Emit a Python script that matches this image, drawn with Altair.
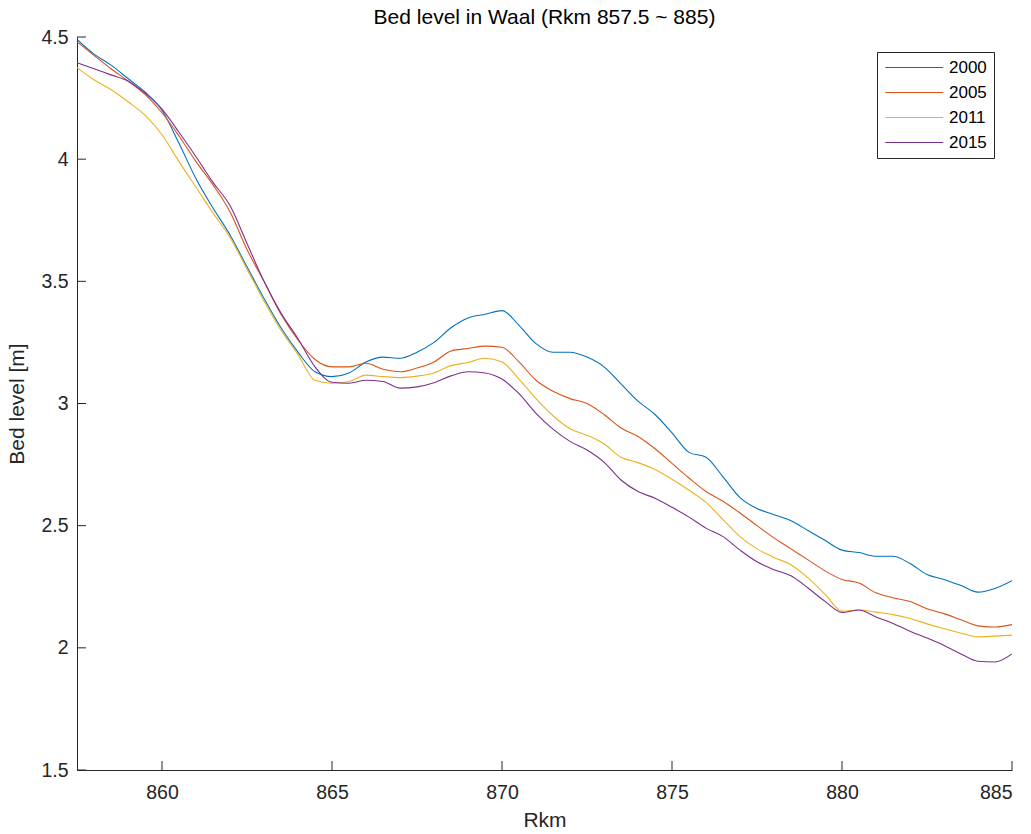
import altair as alt
import pandas as pd

# River kilometre stations (Rkm) along the Waal
rkm = [857.5, 858.0, 858.5, 859.0, 859.5, 860.0, 860.5, 861.0, 861.5, 862.0,
       862.5, 863.0, 863.5, 864.0, 864.5, 865.0, 865.5, 866.0, 866.5, 867.0,
       867.5, 868.0, 868.5, 869.0, 869.5, 870.0, 870.5, 871.0, 871.5, 872.0,
       872.5, 873.0, 873.5, 874.0, 874.5, 875.0, 875.5, 876.0, 876.5, 877.0,
       877.5, 878.0, 878.5, 879.0, 879.5, 880.0, 880.5, 881.0, 881.5, 882.0,
       882.5, 883.0, 883.5, 884.0, 884.5, 885.0]

# Bed level [m] per survey year
bed_2000 = [4.49, 4.43, 4.385, 4.33, 4.275, 4.20, 4.065, 3.92, 3.80, 3.69,
            3.56, 3.43, 3.31, 3.21, 3.13, 3.11, 3.125, 3.17, 3.19, 3.185,
            3.21, 3.25, 3.31, 3.35, 3.365, 3.38, 3.32, 3.245, 3.21, 3.21,
            3.19, 3.15, 3.08, 3.01, 2.955, 2.88, 2.80, 2.78, 2.70, 2.615,
            2.57, 2.545, 2.52, 2.48, 2.44, 2.40, 2.39, 2.375, 2.375, 2.345,
            2.30, 2.28, 2.255, 2.228, 2.243, 2.275]
bed_2005 = [4.48, 4.425, 4.37, 4.32, 4.265, 4.19, 4.095, 3.99, 3.895, 3.785,
            3.63, 3.50, 3.365, 3.26, 3.18, 3.15, 3.15, 3.165, 3.14, 3.13,
            3.145, 3.17, 3.215, 3.225, 3.235, 3.23, 3.17, 3.095, 3.05, 3.02,
            3.00, 2.955, 2.90, 2.865, 2.815, 2.755, 2.695, 2.64, 2.60, 2.552,
            2.50, 2.45, 2.405, 2.36, 2.315, 2.28, 2.265, 2.225, 2.205, 2.19,
            2.16, 2.14, 2.115, 2.09, 2.085, 2.095]
bed_2011 = [4.375, 4.325, 4.285, 4.235, 4.18, 4.10, 3.99, 3.885, 3.78, 3.68,
            3.55, 3.42, 3.30, 3.20, 3.095, 3.083, 3.09, 3.116, 3.11, 3.106,
            3.112, 3.125, 3.155, 3.168, 3.185, 3.17, 3.10, 3.02, 2.95, 2.897,
            2.87, 2.835, 2.78, 2.758, 2.73, 2.69, 2.645, 2.595, 2.525, 2.455,
            2.405, 2.37, 2.34, 2.286, 2.22, 2.15, 2.155, 2.146, 2.136, 2.12,
            2.098, 2.078, 2.06, 2.045, 2.048, 2.052]
bed_2015 = [4.395, 4.37, 4.345, 4.32, 4.27, 4.205, 4.11, 4.01, 3.905, 3.81,
            3.655, 3.50, 3.37, 3.265, 3.15, 3.087, 3.083, 3.095, 3.09, 3.063,
            3.068, 3.085, 3.113, 3.13, 3.125, 3.10, 3.04, 2.96, 2.895, 2.845,
            2.81, 2.76, 2.687, 2.64, 2.612, 2.575, 2.535, 2.49, 2.455, 2.40,
            2.352, 2.32, 2.295, 2.245, 2.19, 2.145, 2.155, 2.126, 2.10, 2.068,
            2.04, 2.01, 1.975, 1.945, 1.942, 1.975]

years = ["2000", "2005", "2011", "2015"]
colors = ["#0072BD", "#D95319", "#EDB120", "#7E2F8E"]

x_ticks = [860, 865, 870, 875, 880, 885]
y_ticks = [1.5, 2.0, 2.5, 3.0, 3.5, 4.0, 4.5]

series = {"2000": bed_2000, "2005": bed_2005, "2011": bed_2011, "2015": bed_2015}
df = pd.DataFrame(
    [{"Rkm": k, "bed": v, "year": y} for y in years for k, v in zip(rkm, series[y])]
)

FONT = "Liberation Sans"
INK = "#262626"
W, H = 935, 733
TICK = 9

x_scale = alt.Scale(domain=[857.5, 885], nice=False, zero=False)
y_scale = alt.Scale(domain=[1.5, 4.5], nice=False, zero=False)

lines = alt.Chart(df).mark_line(strokeWidth=1.1, clip=True, interpolate="monotone").encode(
    x=alt.X("Rkm:Q", scale=x_scale, title="Rkm",
            axis=alt.Axis(values=x_ticks, format="~g", ticks=False, grid=False,
                          labelPadding=13, titlePadding=8)),
    y=alt.Y("bed:Q", scale=y_scale, title="Bed level [m]",
            axis=alt.Axis(values=y_ticks, format="~g", ticks=False, grid=False,
                          labelPadding=9, titlePadding=13)),
    color=alt.Color(
        "year:N",
        scale=alt.Scale(domain=years, range=colors),
        legend=alt.Legend(
            title=None,
            orient="none",
            legendX=800,
            legendY=15,
            symbolType="M-1,0H7",
            symbolSize=210,
            symbolStrokeWidth=1.2,
            labelOffset=48,
            labelFontSize=17,
            labelFont=FONT,
            labelColor="#000000",
            rowPadding=7,
            padding=7,
            strokeColor=INK,
            fillColor="white",
        ),
    ),
    order="year:N",
)

# Inward tick marks along both axes
xt = alt.Chart(pd.DataFrame({"v": x_ticks})).mark_rule(color=INK, strokeWidth=1).encode(
    x=alt.X("v:Q", scale=x_scale), y=alt.value(H), y2=alt.value(H - TICK)
)
yt = alt.Chart(pd.DataFrame({"v": y_ticks})).mark_rule(color=INK, strokeWidth=1).encode(
    y=alt.Y("v:Q", scale=y_scale), x=alt.value(0), x2=alt.value(TICK)
)

chart = (
    alt.layer(lines, xt, yt)
    .properties(
        width=W,
        height=H,
        title=alt.TitleParams(
            "Bed level in Waal (Rkm 857.5 ~ 885)",
            fontSize=21,
            font=FONT,
            fontWeight="normal",
            color="#000000",
            anchor="middle",
            frame="group",
            baseline="alphabetic",
            offset=-18,
        ),
        autosize=alt.AutoSizeParams(type="none"),
        padding={"left": 77, "top": 37, "right": 19, "bottom": 64},
    )
    .configure_view(stroke=None)
    .configure_axis(
        domainColor=INK,
        domainWidth=1,
        labelFont=FONT,
        labelFontSize=19.5,
        labelColor=INK,
        titleFont=FONT,
        titleFontSize=21,
        titleFontWeight="normal",
        titleColor=INK,
    )
)

chart.save("out.html", embed_options={"renderer": "svg", "actions": False})
